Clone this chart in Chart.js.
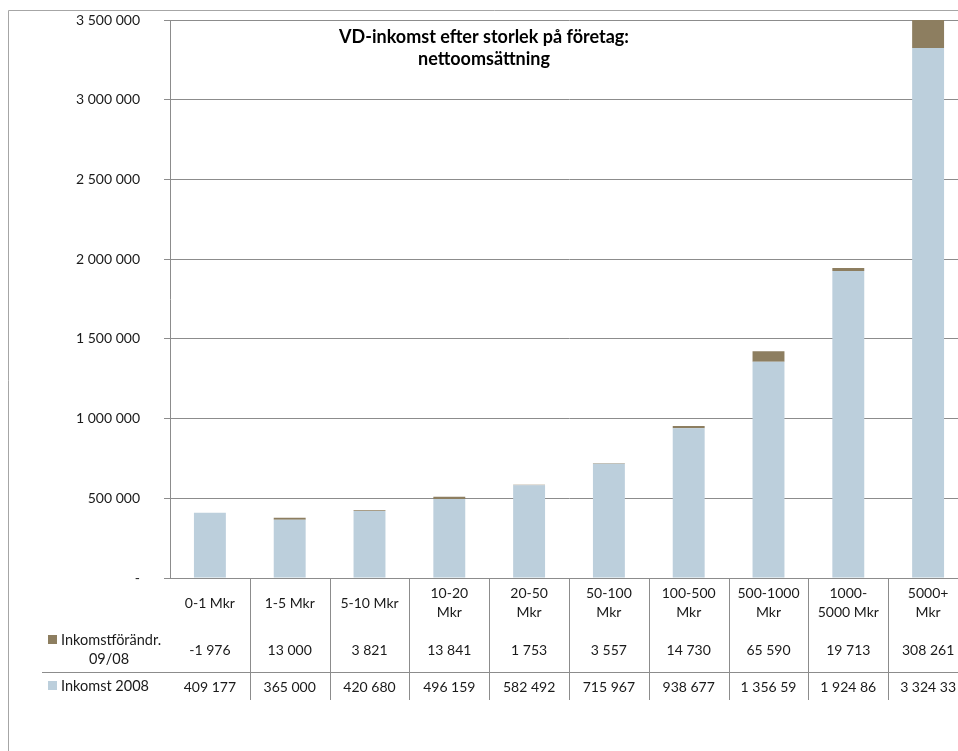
<!DOCTYPE html>
<html>
<head>
<meta charset="utf-8">
<script src="https://cdn.jsdelivr.net/npm/chart.js@4.4.1/dist/chart.umd.min.js"></script>
<style>
  html, body { margin: 0; padding: 0; background: #fff; overflow: hidden; }
  #wrap { position: relative; width: 980px; height: 751px; }
</style>
</head>
<body>
<div id="wrap"><canvas id="chart" width="980" height="751"></canvas></div>
<script>
// Chart data
const categories = [
  ['0-1 Mkr'], ['1-5 Mkr'], ['5-10 Mkr'], ['10-20', 'Mkr'], ['20-50', 'Mkr'],
  ['50-100', 'Mkr'], ['100-500', 'Mkr'], ['500-1000', 'Mkr'], ['1000-', '5000 Mkr'], ['5000+', 'Mkr']
];
const income2008 = [409177, 365000, 420680, 496159, 582492, 715967, 938677, 1356590, 1924860, 3324330];
const incomeChange = [-1976, 13000, 3821, 13841, 1753, 3557, 14730, 65590, 19713, 308261];
const seriesNames = ['Inkomstförändr. 09/08', 'Inkomst 2008'];
const titleLines = ['VD-inkomst efter storlek på företag:', 'nettoomsättning'];

const BLUE = '#bccfdc';
const BROWN = '#8d7e60';
const LINE = '#8c8c8c';
const FONT = 'Lato, "Open Sans", sans-serif';

const fmt = (n) => {
  const s = String(Math.abs(n)).replace(/\B(?=(\d{3})+(?!\d))/g, ' ');
  return (n < 0 ? '-' : '') + s;
};

// Excel cuts cell text that does not fit
const fitText = (ctx, text, maxW) => {
  let s = text;
  while (s.length > 1 && ctx.measureText(s).width > maxW) s = s.slice(0, -1);
  return s.trimEnd();
};

const frameAndTable = {
  id: 'frameAndTable',
  beforeDraw(chart) {
    const ctx = chart.ctx;
    ctx.save();
    ctx.strokeStyle = '#a6a6a6';
    ctx.lineWidth = 1;
    ctx.beginPath();
    ctx.moveTo(8.5, 751);
    ctx.lineTo(8.5, 10.5);
    ctx.lineTo(chart.width, 10.5);
    ctx.stroke();
    ctx.restore();
  },
  afterDraw(chart) {
    const ctx = chart.ctx;
    const x = chart.scales.x;
    const area = chart.chartArea;
    const top = area.bottom;
    const bottom = 700;
    ctx.save();

    // title
    ctx.fillStyle = '#000';
    ctx.font = 'bold 18px ' + FONT;
    ctx.textAlign = 'center';
    ctx.textBaseline = 'middle';
    ctx.fillText(titleLines[0], 484, 37);
    ctx.fillText(titleLines[1], 484, 59);

    // table grid
    ctx.strokeStyle = LINE;
    ctx.lineWidth = 1;
    ctx.beginPath();
    for (let i = 1; i <= categories.length; i++) {
      const bx = Math.round((x.getPixelForValue(i - 1) + x.getPixelForValue(i)) / 2) + 0.5;
      ctx.moveTo(bx, top);
      ctx.lineTo(bx, bottom);
    }
    ctx.moveTo(42, 672.5);
    ctx.lineTo(area.right, 672.5);
    ctx.stroke();

    // table text
    ctx.font = '14px ' + FONT;
    ctx.fillStyle = '#1a1a1a';
    categories.forEach((lines, i) => {
      const cx = x.getPixelForValue(i);
      if (lines.length === 1) {
        ctx.fillText(lines[0], cx, 603);
      } else {
        ctx.fillText(lines[0], cx, 593);
        ctx.fillText(lines[1], cx, 612);
      }
      ctx.fillText(fitText(ctx, fmt(incomeChange[i]), 58), cx, 650);
      ctx.fillText(fitText(ctx, fmt(income2008[i]), 58), cx, 687);
    });

    // legend keys
    ctx.fillStyle = BROWN;
    ctx.fillRect(48, 635, 9, 9);
    ctx.fillStyle = BLUE;
    ctx.fillRect(48, 681, 9, 9);
    ctx.fillStyle = '#1a1a1a';
    ctx.font = '14.5px ' + FONT;
    ctx.textAlign = 'left';
    const parts = seriesNames[0].split(' ');
    ctx.fillText(parts[0], 61, 640);
    ctx.textAlign = 'center';
    ctx.fillText(parts[1], 109, 659);
    ctx.textAlign = 'left';
    ctx.fillText(seriesNames[1], 61, 686);
    ctx.restore();
  }
};

new Chart(document.getElementById('chart'), {
  type: 'bar',
  data: {
    labels: categories.map(l => l.join(' ')),
    datasets: [
      { label: seriesNames[1], data: income2008, backgroundColor: BLUE, barPercentage: 0.4, categoryPercentage: 1 },
      { label: seriesNames[0], data: incomeChange, backgroundColor: BROWN, barPercentage: 0.4, categoryPercentage: 1 }
    ]
  },
  options: {
    responsive: false,
    animation: false,
    devicePixelRatio: 1,
    layout: { padding: { left: 0, top: 20, right: 12, bottom: 173 } },
    plugins: { legend: { display: false }, tooltip: { enabled: false } },
    scales: {
      x: {
        stacked: true,
        grid: { display: false },
        ticks: { display: false },
        border: { color: LINE },
        afterFit: (s) => { s.height = 0; }
      },
      y: {
        stacked: true,
        min: 0,
        max: 3500000,
        ticks: {
          stepSize: 500000,
          padding: 24,
          color: '#1a1a1a',
          font: { family: FONT, size: 14 },
          callback: (v) => v === 0 ? '-' : fmt(v)
        },
        grid: { color: LINE, tickLength: 6 },
        border: { color: LINE },
        afterFit: (s) => { s.width = 170; s.paddingTop = 0; s.paddingBottom = 0; }
      }
    }
  },
  plugins: [frameAndTable]
});
</script>
</body>
</html>
